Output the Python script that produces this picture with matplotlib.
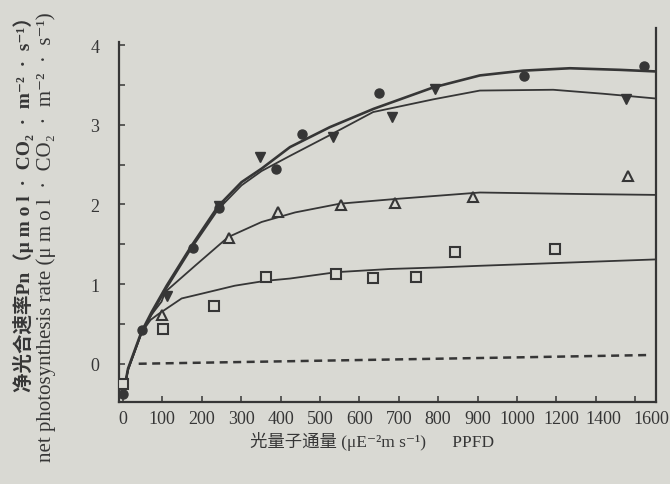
import numpy as np
import matplotlib
matplotlib.use("Agg")
import matplotlib.pyplot as plt
from matplotlib.lines import Line2D
from matplotlib.transforms import ScaledTranslation

# serif for Latin, CJK fallback, DejaVu for the super/subscript signs
FONTS = ["Liberation Serif", "Noto Sans CJK SC", "DejaVu Serif"]
plt.rcParams["font.family"] = FONTS

PAPER = "#d9d9d3"
INK = "#363636"

# ── measured points (PPFD, Pn) ───────────────────────────────────────────────
ppfd_circle = [0, 48, 178, 244, 388, 454, 650, 1036, 1644]
pn_circle   = [-0.38, 0.43, 1.45, 1.96, 2.45, 2.88, 3.40, 3.61, 3.74]

ppfd_tri_dn = [112, 244, 348, 533, 683, 792, 1554]
pn_tri_dn   = [0.85, 1.98, 2.60, 2.85, 3.10, 3.45, 3.32]

ppfd_tri_up = [99, 269, 393, 553, 690, 888, 1564]
pn_tri_up   = [0.61, 1.58, 1.91, 1.99, 2.02, 2.09, 2.36]

ppfd_square = [0, 102, 231, 363, 541, 635, 744, 843, 1192]
pn_square   = [-0.25, 0.44, 0.73, 1.09, 1.13, 1.08, 1.09, 1.40, 1.44]

# ── fitted response curves ───────────────────────────────────────────────────
fit_x_circle = [0, 13, 47, 73, 111, 174, 242, 301, 352, 424, 525, 636, 788,
                906, 1032, 1269, 1523, 1706]
fit_y_circle = [-0.40, -0.06, 0.40, 0.65, 0.98, 1.48, 1.98, 2.28, 2.45, 2.72,
                2.97, 3.20, 3.47, 3.62, 3.68, 3.71, 3.69, 3.67]

fit_x_tri_dn = [0, 13, 47, 73, 111, 174, 242, 301, 352, 424, 525, 635, 788,
                906, 1184, 1438, 1706]
fit_y_tri_dn = [-0.40, -0.08, 0.38, 0.62, 0.95, 1.45, 1.94, 2.24, 2.42, 2.61,
                2.87, 3.16, 3.32, 3.43, 3.44, 3.39, 3.33]

fit_x_tri_up = [0, 13, 47, 73, 98, 107, 183, 267, 352, 437, 551, 695, 906,
                1354, 1706]
fit_y_tri_up = [-0.40, -0.07, 0.39, 0.62, 0.78, 0.90, 1.23, 1.59, 1.78, 1.90,
                2.01, 2.07, 2.15, 2.13, 2.12]

fit_x_square = [0, 13, 47, 70, 89, 149, 200, 284, 360, 424, 542, 678, 805,
                906, 1706]
fit_y_square = [-0.40, -0.07, 0.39, 0.55, 0.62, 0.82, 0.88, 0.98, 1.04, 1.07,
                1.15, 1.19, 1.21, 1.23, 1.31]

# dashed reference line
ref_x = [40, 1000, 1680]
ref_y = [0.0, 0.08, 0.11]

xticks = [0, 100, 200, 300, 400, 500, 600, 700, 800, 900, 1000, 1200, 1400, 1600]


# x axis: 100 units per division up to 1000, 200 units per division above
def fwd(x):
    x = np.asarray(x, dtype=float)
    return np.where(x <= 1000, x / 100.0, 10.0 + (x - 1000.0) / 200.0)


def inv(u):
    u = np.asarray(u, dtype=float)
    return np.where(u <= 10, u * 100.0, 1000.0 + (u - 10.0) * 200.0)


fig = plt.figure(figsize=(6.7, 4.85), dpi=100, facecolor=PAPER)
ax = fig.add_axes([0.1776, 0.1691, 0.8015, 0.7423], facecolor=PAPER)
ax.set_xscale("function", functions=(fwd, inv))

ax.plot(fit_x_circle, fit_y_circle, color=INK, lw=1.9, zorder=3)
ax.plot(fit_x_tri_dn, fit_y_tri_dn, color=INK, lw=1.3, zorder=3)
ax.plot(fit_x_tri_up, fit_y_tri_up, color=INK, lw=1.3, zorder=3)
ax.plot(fit_x_square, fit_y_square, color=INK, lw=1.3, zorder=3)
ax.plot(ref_x, ref_y, color=INK, lw=1.8, ls=(0, (3.2, 2.2)), zorder=2)

ax.plot(ppfd_circle, pn_circle, "o", ms=6.5, color=INK, zorder=4)
ax.plot(ppfd_tri_dn, pn_tri_dn, "v", ms=7.5, color=INK, zorder=4)
ax.plot(ppfd_tri_up, pn_tri_up, "^", ms=7, mfc=PAPER, mec=INK, mew=1.5, zorder=4)
ax.plot(ppfd_square, pn_square, "s", ms=6.5, mfc=PAPER, mec=INK, mew=1.5, zorder=4)

ax.set_xlim(-10, 1706)
ax.set_ylim(-0.48, 4.04)

ax.set_xticks(xticks)
ax.set_xticklabels([str(t) for t in xticks])
yt = np.arange(0, 4.01, 0.5)
ax.set_yticks(yt)
ax.set_yticklabels([str(int(v)) if v == int(v) else "" for v in yt])
ax.tick_params(axis="both", direction="in", colors=INK, width=1.1, length=4.5,
               labelsize=13, labelcolor=INK)
ax.tick_params(axis="x", pad=6)
ax.tick_params(axis="y", pad=14)

# labels past 1000 sit a little right of their ticks
shifts = {1200: 5, 1400: 8, 1600: 16}
for t, lab in zip(xticks, ax.get_xticklabels()):
    if t in shifts:
        lab.set_transform(lab.get_transform()
                          + ScaledTranslation(shifts[t] / 100, 0, fig.dpi_scale_trans))

ax.spines["top"].set_visible(False)
ax.spines["right"].set_visible(False)
for s in ("left", "bottom"):
    ax.spines[s].set_color(INK)
    ax.spines[s].set_linewidth(1.6)
ax.add_line(Line2D([1, 1], [0, 1.04], transform=ax.transAxes, color=INK,
                   lw=1.6, clip_on=False))

fig.text(0.035, 0.985, "净光合速率Pn（μ m o l  ·  CO₂  ·  m⁻²  ·  s⁻¹）",
         rotation=90, ha="center", va="top", fontsize=14, color=INK,
         fontweight="bold")
fig.text(0.069, 0.975, "net photosynthesis rate (μ m o l  ·  CO₂  ·  m⁻²  ·  s⁻¹)",
         rotation=90, ha="center", va="top", fontsize=15, color=INK)
fig.text(0.555, 0.09, "光量子通量 (μE⁻²m s⁻¹)      PPFD",
         ha="center", va="center", fontsize=12.5, color=INK)

fig.savefig("out.png", dpi=100, facecolor=PAPER)
